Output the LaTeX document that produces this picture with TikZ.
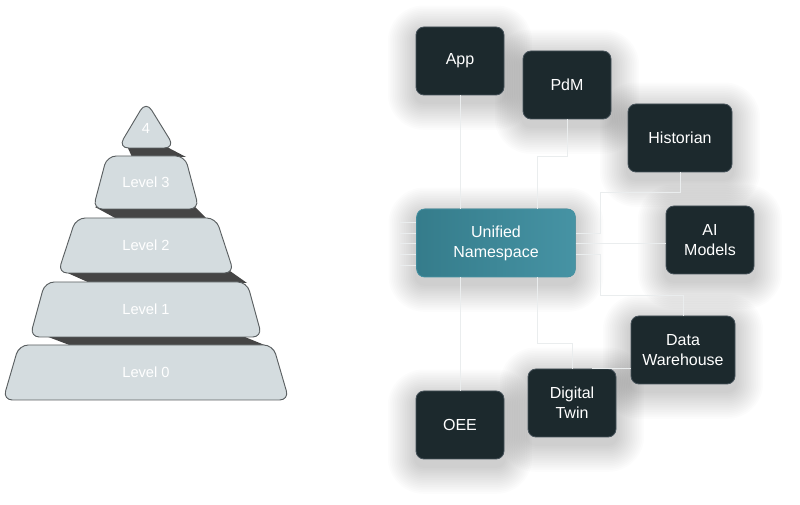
\documentclass[tikz,border=0pt]{standalone}
\usepackage{fontspec}
\setmainfont{Liberation Sans}
\usetikzlibrary{backgrounds}

\definecolor{boxfill}{HTML}{1C292D}
\definecolor{boxedge}{HTML}{46525A}
\definecolor{hubleft}{HTML}{357C8B}
\definecolor{hubright}{HTML}{4693A4}
\definecolor{layerfill}{HTML}{D4DCDF}
\definecolor{layeredge}{HTML}{5B6062}
\definecolor{gapdark}{HTML}{454545}
\definecolor{linkgray}{HTML}{EAEDEE}

\tikzset{
  box/.style={draw=boxedge, line width=0.6pt, fill=boxfill, rounded corners=6pt, text=white,
    font=\fontsize{12}{15}\selectfont, align=center, inner sep=2pt,
    minimum width=66pt, minimum height=51pt},
  widebox/.style={box, minimum width=78pt},
  hub/.style={box, draw=hubright, left color=hubleft, right color=hubright, minimum width=119pt},
  link/.style={draw=linkgray, line width=0.7pt},
  layer/.style={draw=layeredge, fill=layerfill, line width=0.7pt, rounded corners=7pt},
  gap/.style={fill=gapdark},
  lvltext/.style={text=white, font=\fontsize{11}{13}\selectfont},
  softshadow/.style={fill=black, opacity=0.013}
}

\begin{document}
\begin{tikzpicture}[x=0.75pt, y=-0.75pt]
\useasboundingbox (0,0) rectangle (800,505);

% Pyramid: dark bands between the layers
\fill[gap] (127,146) -- (165,146) -- (186,157) -- (132,157) -- cycle;
\fill[gap] (95,207) -- (195,207) -- (207,219) -- (117,219) -- cycle;
\fill[gap] (63,271) -- (230,271) -- (247,283) -- (90,283) -- cycle;
\fill[gap] (43,335) -- (240,335) -- (267,346) -- (72,346) -- cycle;

% Pyramid: layers
\draw[layer, rounded corners=8pt] (146,101) -- (175,148) -- (118,148) -- cycle;
\node[lvltext] (lvl4) at (146,128) {4};
\foreach \ytop/\ybot/\wtop/\wbot/\txt/\nm in {156/209/39/53/Level 3/lvl3, 218/273/70/88/Level 2/lvl2,
    282/337/101/116/Level 1/lvl1, 345/400/127/143/Level 0/lvl0}{
  \draw[layer] (146-\wtop,\ytop) -- (146+\wtop,\ytop) -- (146+\wbot,\ybot) -- (146-\wbot,\ybot) -- cycle;
  \node[lvltext] (\nm) at (146,{(\ytop+\ybot)/2}) {\txt};
}

% Hub and applications
\node[hub] (uns) at (496,243) {Unified\\Namespace};
\node[box] (app) at (460,61) {App};
\node[box] (pdm) at (567,85) {PdM};
\node[widebox] (hist) at (680,138) {Historian};
\node[box] (ai) at (710,240) {AI\\Models};
\node[widebox] (dw) at (683,350) {Data\\Warehouse};
\node[box] (dt) at (572,403) {Digital\\Twin};
\node[box] (oee) at (460,425) {OEE};

% soft shadows behind the boxes
\begin{pgfonlayer}{background}
\fill[white] (0,0) rectangle (800,505);
\foreach \n in {uns,app,pdm,hist,ai,dw,dt,oee}{
  \foreach \k in {1,...,16}{
    \fill[softshadow, rounded corners=6pt+\k*1.3pt] ([xshift=-\k*1.3pt, yshift=-5pt-\k*1.3pt]\n.south west)
      rectangle ([xshift=\k*1.3pt, yshift=-5pt+\k*1.3pt]\n.north east);
  }
}
\end{pgfonlayer}

% Connectors
\coordinate (unsN2) at (537,209);
\coordinate (unsS2) at (537,277);
\coordinate (unsE1) at (576,233);
\coordinate (unsE3) at (576,254);
\draw[link] (app.south) -- (app.south |- uns.north);
\draw[link] (pdm.south) -- ++(0,37) -| (unsN2);
\draw[link] (hist.south) -- ++(0,20) -| (600,233) -- (unsE1);
\draw[link] (uns.east) -- (uns.east -| ai.west);
\draw[link] (dw.north) -- ++(0,-20) -| (600,254) -- (unsE3);
\draw[link] ([yshift=-13.5pt]dw.west) -- ([yshift=-13.5pt]dw.west -| 592,0);
\draw[link] (dt.north) -- ++(0,-25) -| (unsS2);
\draw[link] (oee.north) -- (oee.north |- uns.south);
% stubs towards the pyramid
\foreach \yy/\nm in {222/a, 233/b, 243/c, 254/d, 265/e}{
  \coordinate (stub\nm) at (400,\yy);
  \draw[link] (stub\nm) -- (stub\nm -| uns.west);
}
\end{tikzpicture}
\end{document}
